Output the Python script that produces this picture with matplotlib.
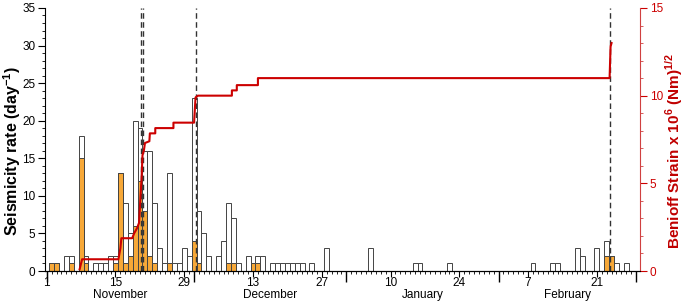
import matplotlib.pyplot as plt
import numpy as np

plt.rcParams['font.family'] = ['Liberation Sans', 'DejaVu Sans']
plt.rcParams['mathtext.fontset'] = 'custom'
plt.rcParams['mathtext.rm'] = 'Liberation Sans'
plt.rcParams['mathtext.bf'] = 'Liberation Sans:bold'

# dia 1 = 1 de noviembre
dias = [2, 3, 5, 6, 8, 9, 11, 12, 13, 14, 15, 16, 17, 18, 19, 20, 21, 22, 23, 24,
        25, 26, 27, 28, 29, 30, 31, 32, 33, 34, 36, 37, 38, 39, 40, 42, 43, 44, 45,
        47, 48, 49, 50, 51, 52, 53, 55, 58, 67, 76, 77, 83, 100, 104, 105, 109, 110,
        113, 115, 116, 117, 119]
total = [1, 1, 2, 2, 18, 2, 1, 1, 1, 2, 2, 13, 9, 5, 20, 19, 16, 16, 9, 3,
         1, 13, 1, 1, 3, 2, 23, 8, 5, 2, 2, 4, 9, 7, 1, 2, 1, 2, 2,
         1, 1, 1, 1, 1, 1, 1, 1, 3, 3, 1, 1, 1, 1, 1, 1, 3, 2,
         3, 4, 2, 1, 1]
subconj = [1, 1, 0, 1, 15, 1, 0, 0, 0, 0, 1, 13, 1, 2, 6, 12, 8, 2, 1, 0,
           0, 1, 0, 0, 0, 0, 4, 1, 0, 0, 0, 0, 1, 1, 0, 0, 1, 1, 0,
           0, 0, 0, 0, 0, 0, 0, 0, 0, 0, 0, 0, 0, 0, 0, 0, 0, 0,
           0, 2, 2, 0, 0]

# deformacion de Benioff acumulada
bs_dia = [7.7, 8.2, 15.6, 16.0, 16.2, 18.4, 18.8, 19.4, 19.8, 20.1, 20.3, 20.5,
          20.8, 21.0, 21.9, 22.0, 23.1, 23.1, 26.8, 26.8, 31.0, 31.3, 31.8, 38.7,
          38.7, 39.7, 39.7, 44.0, 44.0, 115.6, 115.8, 116.0]
bs_val = [0.1, 0.67, 0.67, 1.3, 1.87, 1.87, 2.15, 2.45, 2.75, 4.3, 5.2, 6.6,
          6.9, 7.3, 7.4, 7.85, 7.85, 8.15, 8.15, 8.46, 8.46, 9.9, 10.0, 10.0,
          10.3, 10.3, 10.6, 10.6, 11.0, 11.0, 12.8, 13.0]

eventos = [20.1, 20.7, 31.3, 115.6]

ticks_dias = [1, 15, 29, 43, 57, 71, 85, 99, 113]
ticks_txt = ['1', '15', '29', '13', '27', '10', '24', '7', '21']
inicio_mes = [1, 31, 62, 93, 121]
meses = ['November', 'December', 'January', 'February']
centro_mes = [16, 46.5, 77.5, 107]

ROJO = '#CC0000'
NARANJA = '#F7A838'

fig = plt.figure(figsize=(6.86, 3.02), dpi=100)
ax = fig.add_axes([0.0656, 0.1026, 0.8674, 0.871])

ax.bar(dias, total, width=1.0, color='white', edgecolor='#444444', linewidth=0.7)
ax.bar(dias, subconj, width=1.0, color=NARANJA, edgecolor='#444444', linewidth=0.7)
for t in eventos:
    ax.axvline(t, color='#333333', lw=1.0, ls=(0, (4, 2.5)), zorder=4)

ax.set_xlim(0.65, 121.8)
ax.set_ylim(0, 35)
ax.set_yticks(np.arange(0, 36, 5))
ax.set_yticks(np.arange(0, 36, 1), minor=True)
ax.set_xticks(ticks_dias, labels=ticks_txt)
ax.set_xticks(np.arange(1, 122), minor=True)
ax.tick_params(axis='both', which='major', direction='out', labelsize=8.5, width=0.8)
ax.tick_params(axis='y', which='major', length=5, pad=2)
ax.tick_params(axis='y', which='minor', length=2.5, width=0.6)
ax.tick_params(axis='x', which='major', length=4, pad=0.5)
ax.tick_params(axis='x', which='minor', length=2, width=0.6)
ax.spines['top'].set_visible(False)
ax.spines['right'].set_visible(False)
ax.set_ylabel('Seismicity rate (day$^{\\mathbf{-1}}$)', fontsize=11.5,
              fontweight='bold')
ax.yaxis.set_label_coords(-0.037, 0.456)

sec = ax.secondary_xaxis('bottom')
sec.set_xticks(inicio_mes, labels=[''] * len(inicio_mes))
sec.tick_params(length=8, width=1.0)
sec.spines['bottom'].set_visible(False)

sec2 = ax.secondary_xaxis('bottom')
sec2.set_xticks(centro_mes, labels=meses)
sec2.tick_params(length=0, pad=13, labelsize=8.5)
sec2.spines['bottom'].set_visible(False)

ax2 = ax.twinx()
ax2.plot(bs_dia, bs_val, color=ROJO, lw=1.5)
ax2.set_ylim(0, 15)
ax2.set_yticks(np.arange(0, 16, 5))
ax2.set_yticks(np.arange(0, 16, 1), minor=True)
ax2.tick_params(axis='y', which='major', colors=ROJO, length=5, width=0.8,
                labelsize=8.5, direction='out', pad=2)
ax2.tick_params(axis='y', which='minor', colors='#D04040', length=2.5, width=0.6)
ax2.spines['right'].set_color('#D04040')
ax2.spines['top'].set_visible(False)
ax2.spines['left'].set_visible(False)
ax2.set_ylabel('Benioff Strain x 10$^{\\mathbf{6}}$ (Nm)$^{\\mathbf{1/2}}$',
               fontsize=11, fontweight='bold', color='#C00000')
ax2.yaxis.set_label_coords(1.039, 0.458)

fig.savefig('out.png', dpi=100)
